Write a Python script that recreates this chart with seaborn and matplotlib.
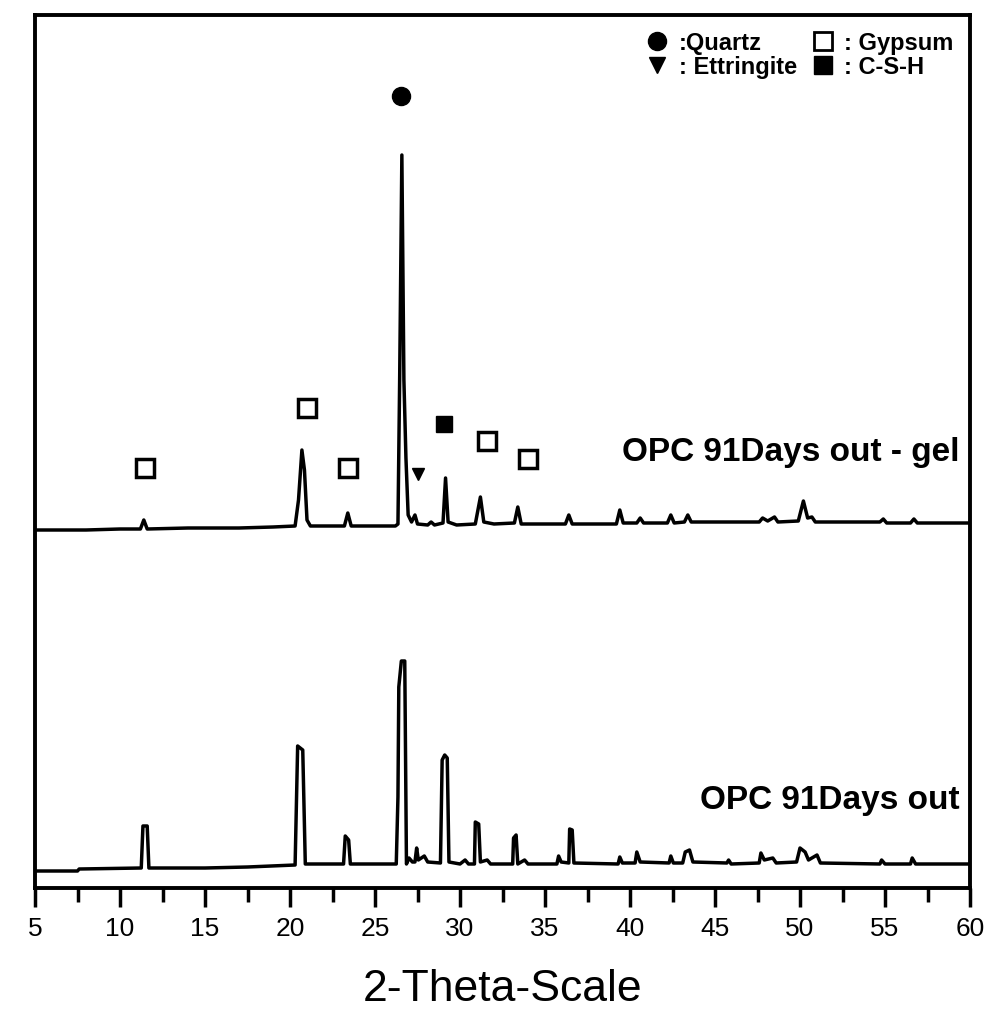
import matplotlib
matplotlib.use("Agg")
import matplotlib.pyplot as plt
from matplotlib.lines import Line2D
import seaborn as sns
import pandas as pd

# ---------------- data ----------------
# OPC 91Days out - gel  (2-theta, intensity a.u.)
gel_theta = [5.0, 8.0, 10.0, 11.2, 11.4, 11.6, 14.0, 17.0, 19.0, 20.3, 20.5, 20.7, 20.85, 21.0, 21.2,
             23.2, 23.4, 23.6, 26.2, 26.35, 26.45, 26.58, 26.7, 26.82, 26.95, 27.15, 27.35, 27.5,
             28.1, 28.3, 28.5, 29.0, 29.15, 29.3, 29.8, 30.9, 31.2, 31.4, 32.0, 33.2, 33.4, 33.6,
             36.2, 36.4, 36.6, 39.2, 39.4, 39.6, 40.4, 40.6, 40.8, 42.2, 42.4, 42.6, 43.2, 43.4,
             43.6, 47.6, 47.8, 48.1, 48.5, 48.7, 49.9, 50.2, 50.45, 50.7, 50.9, 54.7, 54.9, 55.1,
             56.5, 56.7, 56.9, 60.0]
gel_int = [0, 0, 1, 1, 10, 1, 2, 2, 3, 4, 30, 80, 60, 10, 4,
           4, 17, 4, 4, 6, 150, 375, 150, 72, 15, 8, 15, 6,
           5, 8, 5, 7, 52, 8, 5, 6, 33, 8, 6, 7, 23, 6,
           6, 15, 6, 6, 20, 7, 7, 12, 7, 7, 15, 7, 8, 15,
           8, 8, 12, 9, 13, 8, 9, 29, 12, 13, 8, 8, 11, 7,
           7, 11, 7, 7]

# OPC 91Days out
out_theta = [5.0, 7.5, 7.6, 11.25, 11.35, 11.6, 11.7, 15.0, 17.5, 20.3, 20.45, 20.75, 20.9,
             23.15, 23.25, 23.45, 23.55, 26.25, 26.35, 26.4, 26.55, 26.75, 26.85, 27.0, 27.2,
             27.35, 27.45, 27.55, 27.9, 28.1, 28.85, 28.95, 29.1, 29.25, 29.35, 30.0, 30.3, 30.5,
             30.85, 30.9, 31.1, 31.2, 31.6, 31.8, 33.1, 33.15, 33.3, 33.4, 33.8, 34.0, 35.7, 35.8,
             35.95, 36.4, 36.45, 36.6, 36.7, 39.3, 39.4, 39.55, 40.3, 40.4, 40.6, 42.3, 42.4, 42.55,
             43.1, 43.25, 43.5, 43.7, 45.7, 45.8, 45.95, 47.6, 47.7, 47.9, 48.4, 48.6, 49.8, 50.0,
             50.3, 50.5, 51.0, 51.2, 54.7, 54.8, 55.0, 56.5, 56.6, 56.8, 60.0]
out_int = [-1, -1, 1, 2, 44, 44, 2, 2, 3, 5, 124, 120, 6,
           6, 34, 30, 6, 6, 73, 183, 209, 209, 6, 12, 8,
           8, 22, 10, 14, 8, 7, 110, 115, 112, 8, 6, 10, 6,
           6, 48, 46, 8, 10, 6, 6, 32, 35, 6, 10, 6, 6, 14,
           8, 7, 41, 40, 7, 6, 13, 7, 7, 18, 8, 7, 14, 7,
           7, 18, 20, 8, 7, 10, 6, 7, 17, 10, 12, 7, 8, 22,
           18, 10, 15, 7, 6, 10, 6, 6, 12, 6, 6]

gel_offset = 340

# phase identification markers on the gel pattern
quartz_theta, quartz_y = [26.5], [434]
gypsum_theta, gypsum_y = [11.45, 21.0, 23.4, 31.6, 34.0], [62, 122, 62, 89, 71]
ettr_theta, ettr_y = [27.5], [56]
csh_theta, csh_y = [29.05], [106]

tick_values = [5, 10, 15, 20, 25, 30, 35, 40, 45, 50, 55, 60]
sample_labels = ["OPC 91Days out - gel", "OPC 91Days out"]
legend_labels = [":Quartz", ": Ettringite", ": Gypsum", ": C-S-H"]

# ---------------- figure ----------------
sns.set_theme(style="white")
plt.rcParams['font.family'] = ['Liberation Sans', 'DejaVu Sans']
plt.rcParams['text.color'] = 'black'
plt.rcParams['axes.labelcolor'] = 'black'
plt.rcParams['xtick.color'] = 'black'

fig = plt.figure(figsize=(9.93, 10.17), dpi=100)
ax = fig.add_axes([35 / 993, 1 - 888 / 1017, 935 / 993, 873 / 1017])

df = pd.concat([
    pd.DataFrame({"theta": gel_theta, "I": [v + gel_offset for v in gel_int], "s": sample_labels[0]}),
    pd.DataFrame({"theta": out_theta, "I": out_int, "s": sample_labels[1]}),
])
sns.lineplot(data=df, x="theta", y="I", units="s", estimator=None, color="black",
             linewidth=2.5, ax=ax, legend=False)

mk = dict(color="black", linestyle="none")
ax.plot(quartz_theta, [v + gel_offset for v in quartz_y], marker="o", markersize=13, **mk)
ax.plot(gypsum_theta, [v + gel_offset for v in gypsum_y], marker="s", markersize=13,
        markerfacecolor="white", markeredgewidth=2.5, **mk)
ax.plot(ettr_theta, [v + gel_offset for v in ettr_y], marker="v", markersize=9, **mk)
ax.plot(csh_theta, [v + gel_offset for v in csh_y], marker="s", markersize=12, **mk)

ax.text(59.4, gel_offset + 78, sample_labels[0], ha="right", va="center",
        fontsize=24, fontweight="bold")
ax.text(59.4, 70, sample_labels[1], ha="right", va="center",
        fontsize=24, fontweight="bold")

handles = [
    Line2D([], [], marker="o", markersize=13, **mk),
    Line2D([], [], marker="v", markersize=12, **mk),
    Line2D([], [], marker="s", markersize=13, markerfacecolor="white", markeredgewidth=2, **mk),
    Line2D([], [], marker="s", markersize=13, **mk),
]
ax.legend(handles, legend_labels, ncol=2, loc="upper right", frameon=False,
          prop={"size": 17, "weight": "bold"}, handlelength=0.8, handletextpad=0.5,
          columnspacing=0.7, labelspacing=0.05, borderaxespad=0.3)

ax.set_xlim(5, 60)
ax.set_ylim(-18, 855)
ax.set_yticks([])
ax.set_xticks(tick_values)
ax.set_xticklabels([str(t) for t in tick_values])
ax.set_xticks([t + 2.5 for t in tick_values[:-1]], minor=True)
ax.tick_params(axis="x", which="major", direction="out", length=14, width=2.5,
               labelsize=19, pad=7, bottom=True, color="black")
ax.tick_params(axis="x", which="minor", direction="out", length=10, width=2.5,
               bottom=True, color="black")
ax.set_xlabel("2-Theta-Scale", fontsize=32, labelpad=20)
ax.set_ylabel("")
for sp in ax.spines.values():
    sp.set_visible(True)
    sp.set_color("black")
    sp.set_linewidth(2.8)

fig.savefig("out.png", dpi=100, facecolor="white")
